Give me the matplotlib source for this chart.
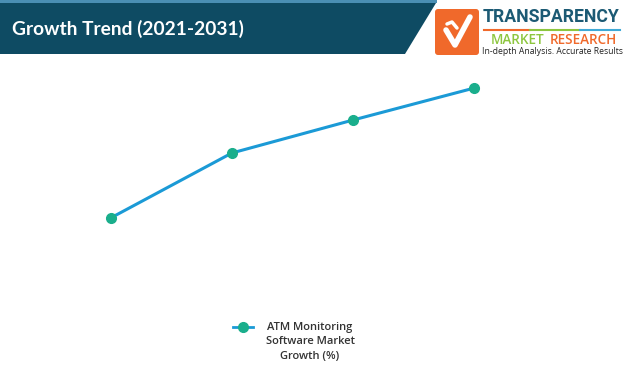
import matplotlib.pyplot as plt
from matplotlib.patches import Polygon, FancyBboxPatch

## -- chart data
years = ['2021', '2024', '2027', '2031']
growth = [3.5, 4.8, 5.46, 6.1]
series_name = 'ATM Monitoring\nSoftware Market\nGrowth (%)'
title = 'Growth Trend (2021-2031)'

W, H = 625, 368
fig = plt.figure(figsize=(W / 100, H / 100), dpi=100)
fig.patch.set_facecolor('white')
renderer = fig.canvas.get_renderer()

def px(x, y):
 ## -- pixel (top-left origin) to figure fraction
 return x / W, 1 - y / H

def fit_text(t, width):
 ## -- shrink / grow a text so that it spans the given pixel width
 w = t.get_window_extent(renderer).width
 t.set_fontsize(t.get_fontsize() * width / w)

## -- header banner
ban = fig.add_axes([0, 0, 1, 1], zorder=0)
ban.set_xlim(0, W)
ban.set_ylim(H, 0)
ban.axis('off')
ban.add_patch(Polygon([(0, 0), (437, 0), (437, 3), (0, 3)], closed=True, color='#4a8fb4', lw=0))
ban.add_patch(Polygon([(0, 3), (436, 3), (405, 54), (0, 54)], closed=True, color='#0e4b63', lw=0))
t = ban.text(12, 29, title, color='white', fontsize=13, fontweight='bold',
 family=['Lato', 'DejaVu Sans'], va='center', ha='left')
fit_text(t, 231)

## -- logo
ban.add_patch(FancyBboxPatch((435, 9), 44, 46, boxstyle='round,pad=0,rounding_size=3',
 color='#f0692b', lw=0))
ban.plot([446, 455, 470], [30, 45, 17], color='white', lw=4, solid_capstyle='round')
ban.plot([447, 452, 457], [24, 22, 28], color='white', lw=2.5, solid_capstyle='round')
t = ban.text(483, 17, 'TRANSPARENCY', color='#1c5a74', fontsize=14, fontweight='bold',
 family=['Roboto', 'DejaVu Sans'], va='center', ha='left')
fit_text(t, 137)
ban.plot([484, 530], [30, 30], color='#f0692b', lw=1.5)
ban.plot([530, 580], [30, 30], color='#8dc63f', lw=1.5)
ban.plot([580, 620], [30, 30], color='#3fa9d6', lw=1.5)
t = ban.text(550, 40, 'RESEARCH', color='#f0692b', fontsize=9, family=['Open Sans', 'DejaVu Sans'],
 va='center', ha='left', fontweight='semibold')
fit_text(t, 67)
ban.text(544, 40, 'MARKET', color='#8dc63f', fontsize=t.get_fontsize(),
 family=['Open Sans', 'DejaVu Sans'], va='center', ha='right', fontweight='semibold')
t = ban.text(482, 51, 'In-depth Analysis. Accurate Results', color='#222222', fontsize=6.6,
 family=['Open Sans', 'DejaVu Sans'], va='center', ha='left')
fit_text(t, 139)

## -- line chart
x0, y0 = px(50, 300)
x1, y1 = px(535, 60)
ax = fig.add_axes([x0, y0, x1 - x0, y1 - y0], zorder=1)
ax.patch.set_alpha(0)
ax.plot(range(len(years)), growth, color='#1b9ad6', lw=2.2,
 marker='o', ms=7, mfc='#1aae8c', mec='#1aae8c', label=series_name)
ax.set_xlim(-0.5, 3.5)
ax.set_ylim(1.86, 6.66)
ax.axis('off')

## -- legend (handle sits level with the first text line)
ban.plot([233, 253], [327, 327], color='#1b9ad6', lw=2)
ban.plot([243], [327], marker='o', ms=7, mfc='#1aae8c', mec='#1aae8c')
ban.text(310, 342, series_name, color='#333333', fontsize=8, ha='center', va='center',
 multialignment='center', linespacing=1.45, family=['Open Sans', 'DejaVu Sans'],
 fontweight='semibold')

fig.savefig('out.png', dpi=100)
